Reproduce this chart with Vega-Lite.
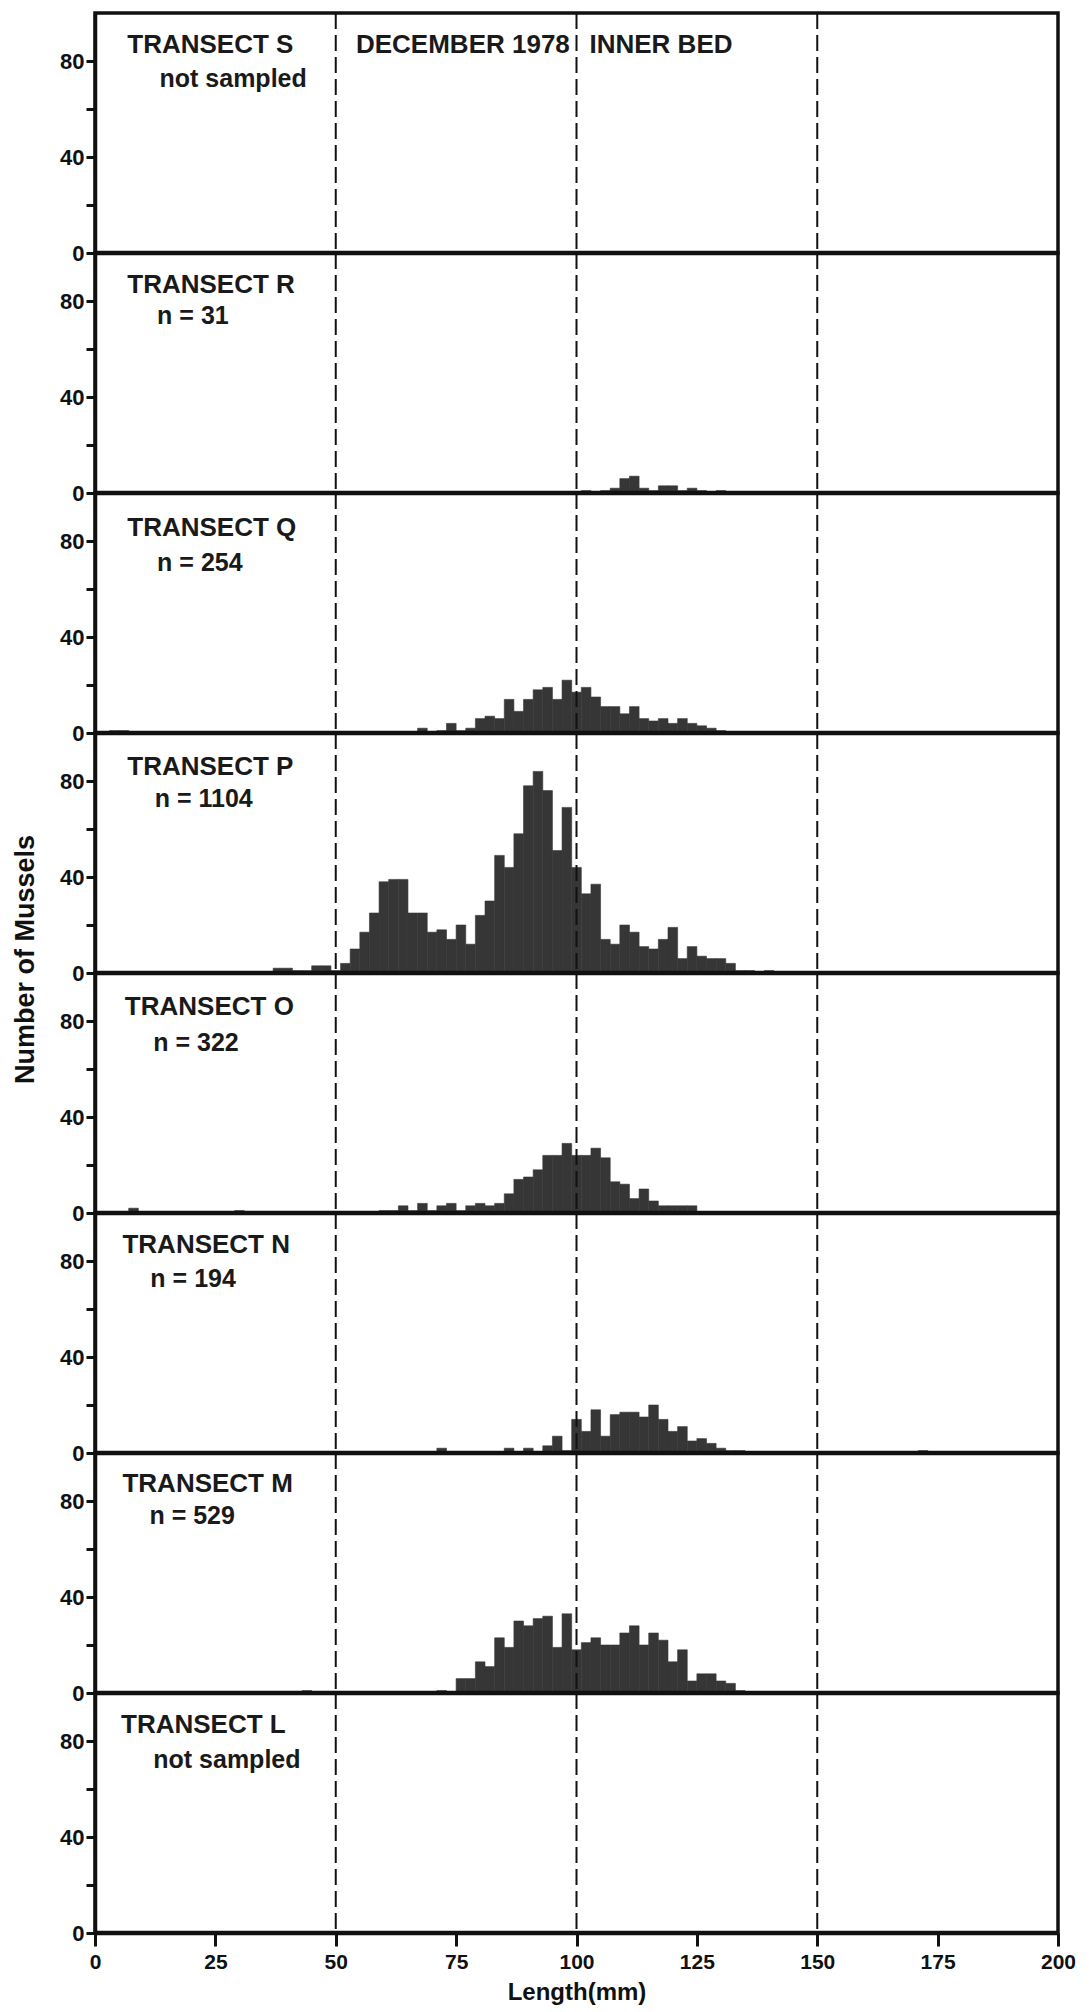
{
"$schema": "https://vega.github.io/schema/vega-lite/v6.json",
"background": "white",
"padding": {"left": 9, "top": 10, "right": 5, "bottom": 2},
"spacing": 0,
"bounds": "flush",
"datasets": {
"counts": [
{"t":"R","lo":101,"hi":103,"n":1},{"t":"R","lo":105,"hi":107,"n":1},{"t":"R","lo":107,"hi":109,"n":2},{"t":"R","lo":109,"hi":111,"n":6},{"t":"R","lo":111,"hi":113,"n":7},{"t":"R","lo":113,"hi":115,"n":2},{"t":"R","lo":115,"hi":117,"n":1},{"t":"R","lo":117,"hi":119,"n":3},{"t":"R","lo":119,"hi":121,"n":3},{"t":"R","lo":121,"hi":123,"n":1},{"t":"R","lo":123,"hi":125,"n":2},{"t":"R","lo":125,"hi":127,"n":1},{"t":"R","lo":129,"hi":131,"n":1},
{"t":"Q","lo":3,"hi":5,"n":1},{"t":"Q","lo":5,"hi":7,"n":1},{"t":"Q","lo":67,"hi":69,"n":2},{"t":"Q","lo":71,"hi":73,"n":1},{"t":"Q","lo":73,"hi":75,"n":4},{"t":"Q","lo":75,"hi":77,"n":1},{"t":"Q","lo":77,"hi":79,"n":2},{"t":"Q","lo":79,"hi":81,"n":6},{"t":"Q","lo":81,"hi":83,"n":7},{"t":"Q","lo":83,"hi":85,"n":6},{"t":"Q","lo":85,"hi":87,"n":14},{"t":"Q","lo":87,"hi":89,"n":9},{"t":"Q","lo":89,"hi":91,"n":14},{"t":"Q","lo":91,"hi":93,"n":18},{"t":"Q","lo":93,"hi":95,"n":19},{"t":"Q","lo":95,"hi":97,"n":14},{"t":"Q","lo":97,"hi":99,"n":22},{"t":"Q","lo":99,"hi":101,"n":17},{"t":"Q","lo":101,"hi":103,"n":19},{"t":"Q","lo":103,"hi":105,"n":15},{"t":"Q","lo":105,"hi":107,"n":11},{"t":"Q","lo":107,"hi":109,"n":11},{"t":"Q","lo":109,"hi":111,"n":8},{"t":"Q","lo":111,"hi":113,"n":11},{"t":"Q","lo":113,"hi":115,"n":6},{"t":"Q","lo":115,"hi":117,"n":5},{"t":"Q","lo":117,"hi":119,"n":6},{"t":"Q","lo":119,"hi":121,"n":4},{"t":"Q","lo":121,"hi":123,"n":6},{"t":"Q","lo":123,"hi":125,"n":4},{"t":"Q","lo":125,"hi":127,"n":3},{"t":"Q","lo":127,"hi":129,"n":2},{"t":"Q","lo":129,"hi":131,"n":1},
{"t":"P","lo":37,"hi":39,"n":2},{"t":"P","lo":39,"hi":41,"n":2},{"t":"P","lo":41,"hi":43,"n":1},{"t":"P","lo":43,"hi":45,"n":1},{"t":"P","lo":45,"hi":47,"n":3},{"t":"P","lo":47,"hi":49,"n":3},{"t":"P","lo":49,"hi":51,"n":1},{"t":"P","lo":51,"hi":53,"n":4},{"t":"P","lo":53,"hi":55,"n":10},{"t":"P","lo":55,"hi":57,"n":17},{"t":"P","lo":57,"hi":59,"n":25},{"t":"P","lo":59,"hi":61,"n":38},{"t":"P","lo":61,"hi":63,"n":39},{"t":"P","lo":63,"hi":65,"n":39},{"t":"P","lo":65,"hi":67,"n":25},{"t":"P","lo":67,"hi":69,"n":25},{"t":"P","lo":69,"hi":71,"n":17},{"t":"P","lo":71,"hi":73,"n":18},{"t":"P","lo":73,"hi":75,"n":14},{"t":"P","lo":75,"hi":77,"n":20},{"t":"P","lo":77,"hi":79,"n":12},{"t":"P","lo":79,"hi":81,"n":24},{"t":"P","lo":81,"hi":83,"n":30},{"t":"P","lo":83,"hi":85,"n":49},{"t":"P","lo":85,"hi":87,"n":44},{"t":"P","lo":87,"hi":89,"n":58},{"t":"P","lo":89,"hi":91,"n":78},{"t":"P","lo":91,"hi":93,"n":84},{"t":"P","lo":93,"hi":95,"n":76},{"t":"P","lo":95,"hi":97,"n":51},{"t":"P","lo":97,"hi":99,"n":69},{"t":"P","lo":99,"hi":101,"n":44},{"t":"P","lo":101,"hi":103,"n":33},{"t":"P","lo":103,"hi":105,"n":37},{"t":"P","lo":105,"hi":107,"n":14},{"t":"P","lo":107,"hi":109,"n":12},{"t":"P","lo":109,"hi":111,"n":20},{"t":"P","lo":111,"hi":113,"n":17},{"t":"P","lo":113,"hi":115,"n":11},{"t":"P","lo":115,"hi":117,"n":10},{"t":"P","lo":117,"hi":119,"n":14},{"t":"P","lo":119,"hi":121,"n":19},{"t":"P","lo":121,"hi":123,"n":6},{"t":"P","lo":123,"hi":125,"n":11},{"t":"P","lo":125,"hi":127,"n":7},{"t":"P","lo":127,"hi":129,"n":6},{"t":"P","lo":129,"hi":131,"n":6},{"t":"P","lo":131,"hi":133,"n":4},{"t":"P","lo":133,"hi":135,"n":1},{"t":"P","lo":135,"hi":137,"n":1},{"t":"P","lo":139,"hi":141,"n":1},
{"t":"O","lo":7,"hi":9,"n":2},{"t":"O","lo":29,"hi":31,"n":1},{"t":"O","lo":59,"hi":61,"n":1},{"t":"O","lo":61,"hi":63,"n":1},{"t":"O","lo":63,"hi":65,"n":3},{"t":"O","lo":65,"hi":67,"n":1},{"t":"O","lo":67,"hi":69,"n":4},{"t":"O","lo":69,"hi":71,"n":1},{"t":"O","lo":71,"hi":73,"n":3},{"t":"O","lo":73,"hi":75,"n":4},{"t":"O","lo":75,"hi":77,"n":1},{"t":"O","lo":77,"hi":79,"n":3},{"t":"O","lo":79,"hi":81,"n":4},{"t":"O","lo":81,"hi":83,"n":3},{"t":"O","lo":83,"hi":85,"n":4},{"t":"O","lo":85,"hi":87,"n":8},{"t":"O","lo":87,"hi":89,"n":14},{"t":"O","lo":89,"hi":91,"n":15},{"t":"O","lo":91,"hi":93,"n":18},{"t":"O","lo":93,"hi":95,"n":24},{"t":"O","lo":95,"hi":97,"n":24},{"t":"O","lo":97,"hi":99,"n":29},{"t":"O","lo":99,"hi":101,"n":24},{"t":"O","lo":101,"hi":103,"n":24},{"t":"O","lo":103,"hi":105,"n":27},{"t":"O","lo":105,"hi":107,"n":23},{"t":"O","lo":107,"hi":109,"n":13},{"t":"O","lo":109,"hi":111,"n":12},{"t":"O","lo":111,"hi":113,"n":6},{"t":"O","lo":113,"hi":115,"n":10},{"t":"O","lo":115,"hi":117,"n":5},{"t":"O","lo":117,"hi":119,"n":3},{"t":"O","lo":119,"hi":121,"n":3},{"t":"O","lo":121,"hi":123,"n":3},{"t":"O","lo":123,"hi":125,"n":3},
{"t":"N","lo":71,"hi":73,"n":2},{"t":"N","lo":85,"hi":87,"n":2},{"t":"N","lo":89,"hi":91,"n":2},{"t":"N","lo":93,"hi":95,"n":3},{"t":"N","lo":95,"hi":97,"n":7},{"t":"N","lo":97,"hi":99,"n":1},{"t":"N","lo":99,"hi":101,"n":14},{"t":"N","lo":101,"hi":103,"n":9},{"t":"N","lo":103,"hi":105,"n":18},{"t":"N","lo":105,"hi":107,"n":7},{"t":"N","lo":107,"hi":109,"n":16},{"t":"N","lo":109,"hi":111,"n":17},{"t":"N","lo":111,"hi":113,"n":17},{"t":"N","lo":113,"hi":115,"n":15},{"t":"N","lo":115,"hi":117,"n":20},{"t":"N","lo":117,"hi":119,"n":14},{"t":"N","lo":119,"hi":121,"n":9},{"t":"N","lo":121,"hi":123,"n":11},{"t":"N","lo":123,"hi":125,"n":5},{"t":"N","lo":125,"hi":127,"n":6},{"t":"N","lo":127,"hi":129,"n":4},{"t":"N","lo":129,"hi":131,"n":2},{"t":"N","lo":131,"hi":133,"n":1},{"t":"N","lo":133,"hi":135,"n":1},{"t":"N","lo":171,"hi":173,"n":1},
{"t":"M","lo":43,"hi":45,"n":1},{"t":"M","lo":71,"hi":73,"n":1},{"t":"M","lo":75,"hi":77,"n":6},{"t":"M","lo":77,"hi":79,"n":6},{"t":"M","lo":79,"hi":81,"n":13},{"t":"M","lo":81,"hi":83,"n":11},{"t":"M","lo":83,"hi":85,"n":23},{"t":"M","lo":85,"hi":87,"n":19},{"t":"M","lo":87,"hi":89,"n":30},{"t":"M","lo":89,"hi":91,"n":28},{"t":"M","lo":91,"hi":93,"n":31},{"t":"M","lo":93,"hi":95,"n":32},{"t":"M","lo":95,"hi":97,"n":19},{"t":"M","lo":97,"hi":99,"n":33},{"t":"M","lo":99,"hi":101,"n":18},{"t":"M","lo":101,"hi":103,"n":21},{"t":"M","lo":103,"hi":105,"n":23},{"t":"M","lo":105,"hi":107,"n":20},{"t":"M","lo":107,"hi":109,"n":20},{"t":"M","lo":109,"hi":111,"n":25},{"t":"M","lo":111,"hi":113,"n":28},{"t":"M","lo":113,"hi":115,"n":20},{"t":"M","lo":115,"hi":117,"n":25},{"t":"M","lo":117,"hi":119,"n":22},{"t":"M","lo":119,"hi":121,"n":13},{"t":"M","lo":121,"hi":123,"n":18},{"t":"M","lo":123,"hi":125,"n":5},{"t":"M","lo":125,"hi":127,"n":8},{"t":"M","lo":127,"hi":129,"n":8},{"t":"M","lo":129,"hi":131,"n":5},{"t":"M","lo":131,"hi":133,"n":4},{"t":"M","lo":133,"hi":135,"n":1}
],
"refs": [{"v":50},{"v":100},{"v":150}]
},
"config": {
"font": "Liberation Sans",
"view": {"stroke": "#111", "strokeWidth": 3.5},
"axis": {"grid": false, "labelFont": "Liberation Sans", "labelFontWeight": "bold", "labelColor": "#111", "tickColor": "#111", "domainColor": "#111", "titleFont": "Liberation Sans", "titleFontWeight": "bold", "titleColor": "#111"},
"axisX": {"tickSize": 13, "tickWidth": 3, "labelFontSize": 21, "labelPadding": 5, "labelFlush": false, "domain": false, "labelOverlap": false},
"axisY": {"tickCount": 5, "labelExpr": "datum.value % 40 === 0 ? datum.label : ''", "tickSize": 9, "tickWidth": 3, "labelFontSize": 22, "labelPadding": 2, "domainWidth": 3.5, "labelFlush": false, "labelOverlap": false},
"text": {"font": "Liberation Sans", "fontWeight": "bold", "fontSize": 26, "color": "#1a1a1a", "align": "left", "baseline": "middle"}
},
"vconcat": [
{"width": 963, "height": 240, "layer": [
{"data": {"name": "counts"}, "transform": [{"filter": "datum.t === 'S'"}], "mark": {"type": "rect", "color": "#363636", "stroke": "#363636", "strokeWidth": 0.6}, "encoding": {"x": {"field": "lo", "type": "quantitative", "scale": {"domain": [0,200], "nice": false}, "axis": {"title": null, "labels": false, "ticks": false, "domain": false}}, "x2": {"field": "hi"}, "y": {"field": "n", "type": "quantitative", "scale": {"domain": [0,100], "nice": false}, "axis": {"title": null, "values": [0,20,40,60,80]}}, "y2": {"datum": 0}}},
{"data": {"name": "refs"}, "mark": {"type": "rule", "strokeDash": [16,6], "strokeWidth": 2, "color": "#111"}, "encoding": {"x": {"field": "v", "type": "quantitative", "axis": {"title": null, "labels": false, "ticks": false, "domain": false}}}},
{"data": {"values": [{}]}, "mark": {"type": "rule", "strokeWidth": 4.5, "color": "#111"}, "encoding": {"y": {"datum": 0, "type": "quantitative", "axis": {"title": null, "values": [0,20,40,60,80]}}}},
{"data": {"values": [{}]}, "mark": {"type": "text", "text": "TRANSECT S"}, "encoding": {"x": {"datum": 6.7, "type": "quantitative", "axis": {"title": null, "labels": false, "ticks": false, "domain": false}}, "y": {"datum": 86.8, "type": "quantitative", "axis": {"title": null, "values": [0,20,40,60,80]}}}},
{"data": {"values": [{}]}, "mark": {"type": "text", "text": "not sampled", "fontSize": 25}, "encoding": {"x": {"datum": 13.4, "type": "quantitative", "axis": {"title": null, "labels": false, "ticks": false, "domain": false}}, "y": {"datum": 72.6, "type": "quantitative", "axis": {"title": null, "values": [0,20,40,60,80]}}}},
{"data": {"values": [{}]}, "mark": {"type": "text", "text": "DECEMBER 1978"}, "encoding": {"x": {"datum": 54.2, "type": "quantitative", "axis": {"title": null, "labels": false, "ticks": false, "domain": false}}, "y": {"datum": 86.8, "type": "quantitative", "axis": {"title": null, "values": [0,20,40,60,80]}}}},
{"data": {"values": [{}]}, "mark": {"type": "text", "text": "INNER  BED"}, "encoding": {"x": {"datum": 102.7, "type": "quantitative", "axis": {"title": null, "labels": false, "ticks": false, "domain": false}}, "y": {"datum": 86.8, "type": "quantitative", "axis": {"title": null, "values": [0,20,40,60,80]}}}}
]},
{"width": 963, "height": 240, "layer": [
{"data": {"name": "counts"}, "transform": [{"filter": "datum.t === 'R'"}], "mark": {"type": "rect", "color": "#363636", "stroke": "#363636", "strokeWidth": 0.6}, "encoding": {"x": {"field": "lo", "type": "quantitative", "scale": {"domain": [0,200], "nice": false}, "axis": {"title": null, "labels": false, "ticks": false, "domain": false}}, "x2": {"field": "hi"}, "y": {"field": "n", "type": "quantitative", "scale": {"domain": [0,100], "nice": false}, "axis": {"title": null, "values": [0,20,40,60,80]}}, "y2": {"datum": 0}}},
{"data": {"name": "refs"}, "mark": {"type": "rule", "strokeDash": [16,6], "strokeWidth": 2, "color": "#111"}, "encoding": {"x": {"field": "v", "type": "quantitative", "axis": {"title": null, "labels": false, "ticks": false, "domain": false}}}},
{"data": {"values": [{}]}, "mark": {"type": "rule", "strokeWidth": 4.5, "color": "#111"}, "encoding": {"y": {"datum": 0, "type": "quantitative", "axis": {"title": null, "values": [0,20,40,60,80]}}}},
{"data": {"values": [{}]}, "mark": {"type": "text", "text": "TRANSECT  R"}, "encoding": {"x": {"datum": 6.7, "type": "quantitative", "axis": {"title": null, "labels": false, "ticks": false, "domain": false}}, "y": {"datum": 86.6, "type": "quantitative", "axis": {"title": null, "values": [0,20,40,60,80]}}}},
{"data": {"values": [{}]}, "mark": {"type": "text", "text": "n = 31", "fontSize": 25}, "encoding": {"x": {"datum": 12.9, "type": "quantitative", "axis": {"title": null, "labels": false, "ticks": false, "domain": false}}, "y": {"datum": 73.7, "type": "quantitative", "axis": {"title": null, "values": [0,20,40,60,80]}}}}
]},
{"width": 963, "height": 240, "layer": [
{"data": {"name": "counts"}, "transform": [{"filter": "datum.t === 'Q'"}], "mark": {"type": "rect", "color": "#363636", "stroke": "#363636", "strokeWidth": 0.6}, "encoding": {"x": {"field": "lo", "type": "quantitative", "scale": {"domain": [0,200], "nice": false}, "axis": {"title": null, "labels": false, "ticks": false, "domain": false}}, "x2": {"field": "hi"}, "y": {"field": "n", "type": "quantitative", "scale": {"domain": [0,100], "nice": false}, "axis": {"title": null, "values": [0,20,40,60,80]}}, "y2": {"datum": 0}}},
{"data": {"name": "refs"}, "mark": {"type": "rule", "strokeDash": [16,6], "strokeWidth": 2, "color": "#111"}, "encoding": {"x": {"field": "v", "type": "quantitative", "axis": {"title": null, "labels": false, "ticks": false, "domain": false}}}},
{"data": {"values": [{}]}, "mark": {"type": "rule", "strokeWidth": 4.5, "color": "#111"}, "encoding": {"y": {"datum": 0, "type": "quantitative", "axis": {"title": null, "values": [0,20,40,60,80]}}}},
{"data": {"values": [{}]}, "mark": {"type": "text", "text": "TRANSECT Q"}, "encoding": {"x": {"datum": 6.7, "type": "quantitative", "axis": {"title": null, "labels": false, "ticks": false, "domain": false}}, "y": {"datum": 85.5, "type": "quantitative", "axis": {"title": null, "values": [0,20,40,60,80]}}}},
{"data": {"values": [{}]}, "mark": {"type": "text", "text": "n = 254", "fontSize": 25}, "encoding": {"x": {"datum": 12.9, "type": "quantitative", "axis": {"title": null, "labels": false, "ticks": false, "domain": false}}, "y": {"datum": 71, "type": "quantitative", "axis": {"title": null, "values": [0,20,40,60,80]}}}}
]},
{"width": 963, "height": 240, "layer": [
{"data": {"name": "counts"}, "transform": [{"filter": "datum.t === 'P'"}], "mark": {"type": "rect", "color": "#363636", "stroke": "#363636", "strokeWidth": 0.6}, "encoding": {"x": {"field": "lo", "type": "quantitative", "scale": {"domain": [0,200], "nice": false}, "axis": {"title": null, "labels": false, "ticks": false, "domain": false}}, "x2": {"field": "hi"}, "y": {"field": "n", "type": "quantitative", "scale": {"domain": [0,100], "nice": false}, "axis": {"values": [0,20,40,60,80], "title": "Number of Mussels", "titleFontSize": 27, "titleX": -70, "titleY": 226, "titleAngle": -90, "titleAlign": "center", "titleBaseline": "middle"}}, "y2": {"datum": 0}}},
{"data": {"name": "refs"}, "mark": {"type": "rule", "strokeDash": [16,6], "strokeWidth": 2, "color": "#111"}, "encoding": {"x": {"field": "v", "type": "quantitative", "axis": {"title": null, "labels": false, "ticks": false, "domain": false}}}},
{"data": {"values": [{}]}, "mark": {"type": "rule", "strokeWidth": 4.5, "color": "#111"}, "encoding": {"y": {"datum": 0, "type": "quantitative", "axis": {"values": [0,20,40,60,80]}}}},
{"data": {"values": [{}]}, "mark": {"type": "text", "text": "TRANSECT  P"}, "encoding": {"x": {"datum": 6.7, "type": "quantitative", "axis": {"title": null, "labels": false, "ticks": false, "domain": false}}, "y": {"datum": 86, "type": "quantitative", "axis": {"values": [0,20,40,60,80]}}}},
{"data": {"values": [{}]}, "mark": {"type": "text", "text": "n = 1104", "fontSize": 25}, "encoding": {"x": {"datum": 12.4, "type": "quantitative", "axis": {"title": null, "labels": false, "ticks": false, "domain": false}}, "y": {"datum": 72.6, "type": "quantitative", "axis": {"values": [0,20,40,60,80]}}}}
]},
{"width": 963, "height": 240, "layer": [
{"data": {"name": "counts"}, "transform": [{"filter": "datum.t === 'O'"}], "mark": {"type": "rect", "color": "#363636", "stroke": "#363636", "strokeWidth": 0.6}, "encoding": {"x": {"field": "lo", "type": "quantitative", "scale": {"domain": [0,200], "nice": false}, "axis": {"title": null, "labels": false, "ticks": false, "domain": false}}, "x2": {"field": "hi"}, "y": {"field": "n", "type": "quantitative", "scale": {"domain": [0,100], "nice": false}, "axis": {"title": null, "values": [0,20,40,60,80]}}, "y2": {"datum": 0}}},
{"data": {"name": "refs"}, "mark": {"type": "rule", "strokeDash": [16,6], "strokeWidth": 2, "color": "#111"}, "encoding": {"x": {"field": "v", "type": "quantitative", "axis": {"title": null, "labels": false, "ticks": false, "domain": false}}}},
{"data": {"values": [{}]}, "mark": {"type": "rule", "strokeWidth": 4.5, "color": "#111"}, "encoding": {"y": {"datum": 0, "type": "quantitative", "axis": {"title": null, "values": [0,20,40,60,80]}}}},
{"data": {"values": [{}]}, "mark": {"type": "text", "text": "TRANSECT O"}, "encoding": {"x": {"datum": 6.2, "type": "quantitative", "axis": {"title": null, "labels": false, "ticks": false, "domain": false}}, "y": {"datum": 86, "type": "quantitative", "axis": {"title": null, "values": [0,20,40,60,80]}}}},
{"data": {"values": [{}]}, "mark": {"type": "text", "text": "n = 322", "fontSize": 25}, "encoding": {"x": {"datum": 12.1, "type": "quantitative", "axis": {"title": null, "labels": false, "ticks": false, "domain": false}}, "y": {"datum": 71, "type": "quantitative", "axis": {"title": null, "values": [0,20,40,60,80]}}}}
]},
{"width": 963, "height": 240, "layer": [
{"data": {"name": "counts"}, "transform": [{"filter": "datum.t === 'N'"}], "mark": {"type": "rect", "color": "#363636", "stroke": "#363636", "strokeWidth": 0.6}, "encoding": {"x": {"field": "lo", "type": "quantitative", "scale": {"domain": [0,200], "nice": false}, "axis": {"title": null, "labels": false, "ticks": false, "domain": false}}, "x2": {"field": "hi"}, "y": {"field": "n", "type": "quantitative", "scale": {"domain": [0,100], "nice": false}, "axis": {"title": null, "values": [0,20,40,60,80]}}, "y2": {"datum": 0}}},
{"data": {"name": "refs"}, "mark": {"type": "rule", "strokeDash": [16,6], "strokeWidth": 2, "color": "#111"}, "encoding": {"x": {"field": "v", "type": "quantitative", "axis": {"title": null, "labels": false, "ticks": false, "domain": false}}}},
{"data": {"values": [{}]}, "mark": {"type": "rule", "strokeWidth": 4.5, "color": "#111"}, "encoding": {"y": {"datum": 0, "type": "quantitative", "axis": {"title": null, "values": [0,20,40,60,80]}}}},
{"data": {"values": [{}]}, "mark": {"type": "text", "text": "TRANSECT N"}, "encoding": {"x": {"datum": 5.7, "type": "quantitative", "axis": {"title": null, "labels": false, "ticks": false, "domain": false}}, "y": {"datum": 86.6, "type": "quantitative", "axis": {"title": null, "values": [0,20,40,60,80]}}}},
{"data": {"values": [{}]}, "mark": {"type": "text", "text": "n = 194", "fontSize": 25}, "encoding": {"x": {"datum": 11.5, "type": "quantitative", "axis": {"title": null, "labels": false, "ticks": false, "domain": false}}, "y": {"datum": 72.6, "type": "quantitative", "axis": {"title": null, "values": [0,20,40,60,80]}}}}
]},
{"width": 963, "height": 240, "layer": [
{"data": {"name": "counts"}, "transform": [{"filter": "datum.t === 'M'"}], "mark": {"type": "rect", "color": "#363636", "stroke": "#363636", "strokeWidth": 0.6}, "encoding": {"x": {"field": "lo", "type": "quantitative", "scale": {"domain": [0,200], "nice": false}, "axis": {"title": null, "labels": false, "ticks": false, "domain": false}}, "x2": {"field": "hi"}, "y": {"field": "n", "type": "quantitative", "scale": {"domain": [0,100], "nice": false}, "axis": {"title": null, "values": [0,20,40,60,80]}}, "y2": {"datum": 0}}},
{"data": {"name": "refs"}, "mark": {"type": "rule", "strokeDash": [16,6], "strokeWidth": 2, "color": "#111"}, "encoding": {"x": {"field": "v", "type": "quantitative", "axis": {"title": null, "labels": false, "ticks": false, "domain": false}}}},
{"data": {"values": [{}]}, "mark": {"type": "rule", "strokeWidth": 4.5, "color": "#111"}, "encoding": {"y": {"datum": 0, "type": "quantitative", "axis": {"title": null, "values": [0,20,40,60,80]}}}},
{"data": {"values": [{}]}, "mark": {"type": "text", "text": "TRANSECT M"}, "encoding": {"x": {"datum": 5.7, "type": "quantitative", "axis": {"title": null, "labels": false, "ticks": false, "domain": false}}, "y": {"datum": 87, "type": "quantitative", "axis": {"title": null, "values": [0,20,40,60,80]}}}},
{"data": {"values": [{}]}, "mark": {"type": "text", "text": "n = 529", "fontSize": 25}, "encoding": {"x": {"datum": 11.3, "type": "quantitative", "axis": {"title": null, "labels": false, "ticks": false, "domain": false}}, "y": {"datum": 73.6, "type": "quantitative", "axis": {"title": null, "values": [0,20,40,60,80]}}}}
]},
{"width": 963, "height": 240, "layer": [
{"data": {"name": "counts"}, "transform": [{"filter": "datum.t === 'L'"}], "mark": {"type": "rect", "color": "#363636", "stroke": "#363636", "strokeWidth": 0.6}, "encoding": {"x": {"field": "lo", "type": "quantitative", "scale": {"domain": [0,200], "nice": false}, "axis": {"values": [0,25,50,75,100,125,150,175,200], "title": "Length(mm)", "titleFontSize": 24, "titlePadding": 8}}, "x2": {"field": "hi"}, "y": {"field": "n", "type": "quantitative", "scale": {"domain": [0,100], "nice": false}, "axis": {"title": null, "values": [0,20,40,60,80]}}, "y2": {"datum": 0}}},
{"data": {"name": "refs"}, "mark": {"type": "rule", "strokeDash": [16,6], "strokeWidth": 2, "color": "#111"}, "encoding": {"x": {"field": "v", "type": "quantitative", "axis": {"values": [0,25,50,75,100,125,150,175,200]}}}},
{"data": {"values": [{}]}, "mark": {"type": "rule", "strokeWidth": 4.5, "color": "#111"}, "encoding": {"y": {"datum": 0, "type": "quantitative", "axis": {"title": null, "values": [0,20,40,60,80]}}}},
{"data": {"values": [{}]}, "mark": {"type": "text", "text": "TRANSECT L"}, "encoding": {"x": {"datum": 5.4, "type": "quantitative", "axis": {"values": [0,25,50,75,100,125,150,175,200]}}, "y": {"datum": 86.6, "type": "quantitative", "axis": {"title": null, "values": [0,20,40,60,80]}}}},
{"data": {"values": [{}]}, "mark": {"type": "text", "text": "not sampled", "fontSize": 25}, "encoding": {"x": {"datum": 12.1, "type": "quantitative", "axis": {"values": [0,25,50,75,100,125,150,175,200]}}, "y": {"datum": 72, "type": "quantitative", "axis": {"title": null, "values": [0,20,40,60,80]}}}}
]}
]
}
